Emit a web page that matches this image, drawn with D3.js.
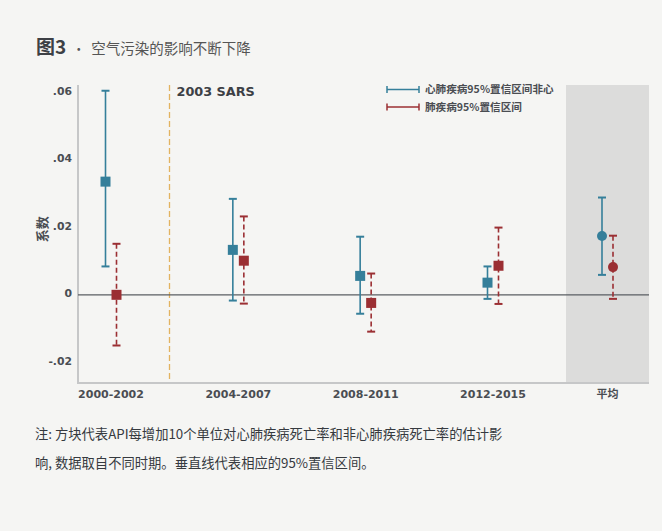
<!DOCTYPE html>
<html>
<head>
<meta charset="utf-8">
<script src="https://cdn.jsdelivr.net/npm/d3@7"></script>
<style>
  html, body { margin: 0; padding: 0; background: #f5f5f3; }
  svg { display: block; }
</style>
</head>
<body>
<svg id="chart" width="662" height="531"></svg>
<script>
// Periods on the x axis, plus the overall average shown in the shaded panel
const periods = ["2000-2002", "2004-2007", "2008-2011", "2012-2015"];
const averageLabel = "平均";

// Cardiopulmonary mortality: estimate and 95% CI bounds
const cardioEst   = [0.0335, 0.0133, 0.0056, 0.0036];
const cardioLow   = [0.0084, -0.0017, -0.0056, -0.0012];
const cardioHigh  = [0.0604, 0.0284, 0.0172, 0.0084];
// Non-cardiopulmonary mortality: estimate and 95% CI bounds
const otherEst    = [0.0000, 0.0101, -0.0024, 0.0086];
const otherLow    = [-0.0150, -0.0026, -0.0109, -0.0027];
const otherHigh   = [0.0151, 0.0232, 0.0063, 0.0199];
// Averages over all periods: [estimate, low, high]
const cardioAvg   = [0.0174, 0.0059, 0.0288];
const otherAvg    = [0.0082, -0.0012, 0.0175];

const yTicks      = [-0.02, 0, 0.02, 0.04, 0.06];
const yTickLabels = ["-.02", "0", ".02", ".04", ".06"];

const legendLabels = ["心肺疾病95%置信区间非心", "肺疾病95%置信区间"];

const svg = d3.select("#chart");
const C_BLUE = "#357f9a", C_RED = "#9b2f33";
const FONT = "'DejaVu Sans', 'Noto Sans CJK SC', sans-serif";
const CJK = "'Noto Sans CJK SC', sans-serif";

// Plot frame
const plotL = 78, plotR = 649, plotT = 85, plotB = 383;
const y = d3.scaleLinear().domain([-0.0261, 0.0621]).range([plotB, plotT]);
const x = d3.scalePoint().domain(periods).range([111, 493]);
const band = { x0: 566, x1: plotR };
const avgX = (band.x0 + band.x1) / 2;
const off = 5.5;

// Title
const title = svg.append("text").attr("x", 36).attr("y", 54);
title.append("tspan").text("图3")
  .attr("font-family", CJK).attr("font-size", 19).attr("font-weight", 700).attr("fill", "#3d4045");
title.append("tspan").text("•").attr("dx", 6)
  .attr("font-family", CJK).attr("font-size", 13).attr("fill", "#555");
title.append("tspan").text("空气污染的影响不断下降").attr("dx", 6)
  .attr("font-family", CJK).attr("font-size", 14.5).attr("fill", "#555");

// Shaded panel for the averages
svg.append("rect").attr("x", band.x0).attr("y", plotT)
  .attr("width", band.x1 - band.x0).attr("height", plotB - plotT)
  .attr("fill", "#dcdcdb");

// Axes frame
svg.append("line").attr("x1", plotL).attr("x2", plotL).attr("y1", plotT).attr("y2", plotB + 1)
  .attr("stroke", "#c6c7c8").attr("stroke-width", 2);
svg.append("line").attr("x1", plotL).attr("x2", plotR).attr("y1", plotB).attr("y2", plotB)
  .attr("stroke", "#c6c7c8").attr("stroke-width", 2);

// Y tick labels
const yAxis = d3.axisLeft(y).tickValues(yTicks).tickSize(0).tickPadding(0)
  .tickFormat((d, i) => yTickLabels[i]);
const gy = svg.append("g").attr("transform", `translate(${plotL - 6},0)`).call(yAxis);
gy.select(".domain").remove();
gy.selectAll("text").attr("font-family", FONT).attr("font-size", 10.8)
  .attr("font-weight", 700).attr("fill", "#4a4d52").attr("dy", "0.2em");

// Y axis title
svg.append("text").text("系数")
  .attr("transform", `translate(47,${y(0.02) + 2}) rotate(-90)`)
  .attr("text-anchor", "middle").attr("font-family", CJK)
  .attr("font-size", 13).attr("font-weight", 700).attr("fill", "#4a4d52");

// X labels
const gx = svg.append("g").attr("transform", `translate(0,${plotB + 15})`);
gx.selectAll("text.period").data(periods).join("text").attr("class", "period")
  .attr("x", d => x(d)).attr("y", 0).attr("text-anchor", "middle")
  .attr("font-family", FONT).attr("font-size", 11).attr("font-weight", 700)
  .attr("fill", "#4a4d52").text(d => d);
gx.append("text").attr("x", avgX).attr("y", 0).attr("text-anchor", "middle")
  .attr("font-family", CJK).attr("font-size", 11).attr("font-weight", 700)
  .attr("fill", "#4a4d52").text(averageLabel);

// SARS marker line
const sarsX = 169.5;
svg.append("line").attr("x1", sarsX).attr("x2", sarsX).attr("y1", plotT).attr("y2", plotB - 1)
  .attr("stroke", "#e2b360").attr("stroke-width", 1.3).attr("stroke-dasharray", "6,3");
svg.append("text").attr("x", sarsX + 7).attr("y", 95.5).text("2003 SARS")
  .attr("font-family", FONT).attr("font-size", 12.8).attr("font-weight", 700).attr("fill", "#3d4045");

// Zero reference line
svg.append("line").attr("x1", plotL).attr("x2", plotR).attr("y1", y(0)).attr("y2", y(0))
  .attr("stroke", "#5a5e63").attr("stroke-width", 1.3);

// Build series rows
const cardioRows = periods.map((p, i) => ({ cx: x(p) - off, est: cardioEst[i], lo: cardioLow[i], hi: cardioHigh[i], shape: "square" }));
cardioRows.push({ cx: avgX - off, est: cardioAvg[0], lo: cardioAvg[1], hi: cardioAvg[2], shape: "circle" });
const otherRows = periods.map((p, i) => ({ cx: x(p) + off, est: otherEst[i], lo: otherLow[i], hi: otherHigh[i], shape: "square" }));
otherRows.push({ cx: avgX + off, est: otherAvg[0], lo: otherAvg[1], hi: otherAvg[2], shape: "circle" });

function drawSeries(rows, color, dash) {
  const g = svg.append("g");
  const cap = 4;
  rows.forEach(r => {
    g.append("line").attr("x1", r.cx).attr("x2", r.cx).attr("y1", y(r.hi)).attr("y2", y(r.lo))
      .attr("stroke", color).attr("stroke-width", 1.6).attr("stroke-dasharray", dash);
    [r.hi, r.lo].forEach(v => {
      g.append("line").attr("x1", r.cx - cap).attr("x2", r.cx + cap).attr("y1", y(v)).attr("y2", y(v))
        .attr("stroke", color).attr("stroke-width", 2);
    });
    if (r.shape === "square") {
      g.append("rect").attr("x", r.cx - 5).attr("y", y(r.est) - 5).attr("width", 10).attr("height", 10)
        .attr("fill", color);
    } else {
      g.append("circle").attr("cx", r.cx).attr("cy", y(r.est)).attr("r", 5).attr("fill", color);
    }
  });
}
drawSeries(cardioRows, C_BLUE, null);
drawSeries(otherRows, C_RED, "5,3");

// Legend
const legend = svg.append("g");
[[C_BLUE, legendLabels[0]], [C_RED, legendLabels[1]]].forEach(([c, t], i) => {
  const ly = 89.5 + i * 17.5;
  legend.append("line").attr("x1", 387).attr("x2", 419).attr("y1", ly).attr("y2", ly)
    .attr("stroke", c).attr("stroke-width", 1.5);
  [387, 419].forEach(lx => legend.append("line").attr("x1", lx).attr("x2", lx)
    .attr("y1", ly - 3.5).attr("y2", ly + 3.5).attr("stroke", c).attr("stroke-width", 1.5));
  legend.append("text").attr("x", 425).attr("y", ly + 3.7).text(t)
    .attr("font-family", CJK).attr("font-size", 10.6).attr("font-weight", 700).attr("fill", "#4a4d52");
});

// Note beneath the chart
const note = ["注: 方块代表API每增加10个单位对心肺疾病死亡率和非心肺疾病死亡率的估计影",
              "响, 数据取自不同时期。垂直线代表相应的95%置信区间。"];
svg.selectAll("text.note").data(note).join("text").attr("class", "note")
  .attr("x", 35).attr("y", (d, i) => 439 + i * 29).text(d => d)
  .attr("font-family", CJK).attr("font-size", 13.3).attr("fill", "#363a3f");
</script>
</body>
</html>
